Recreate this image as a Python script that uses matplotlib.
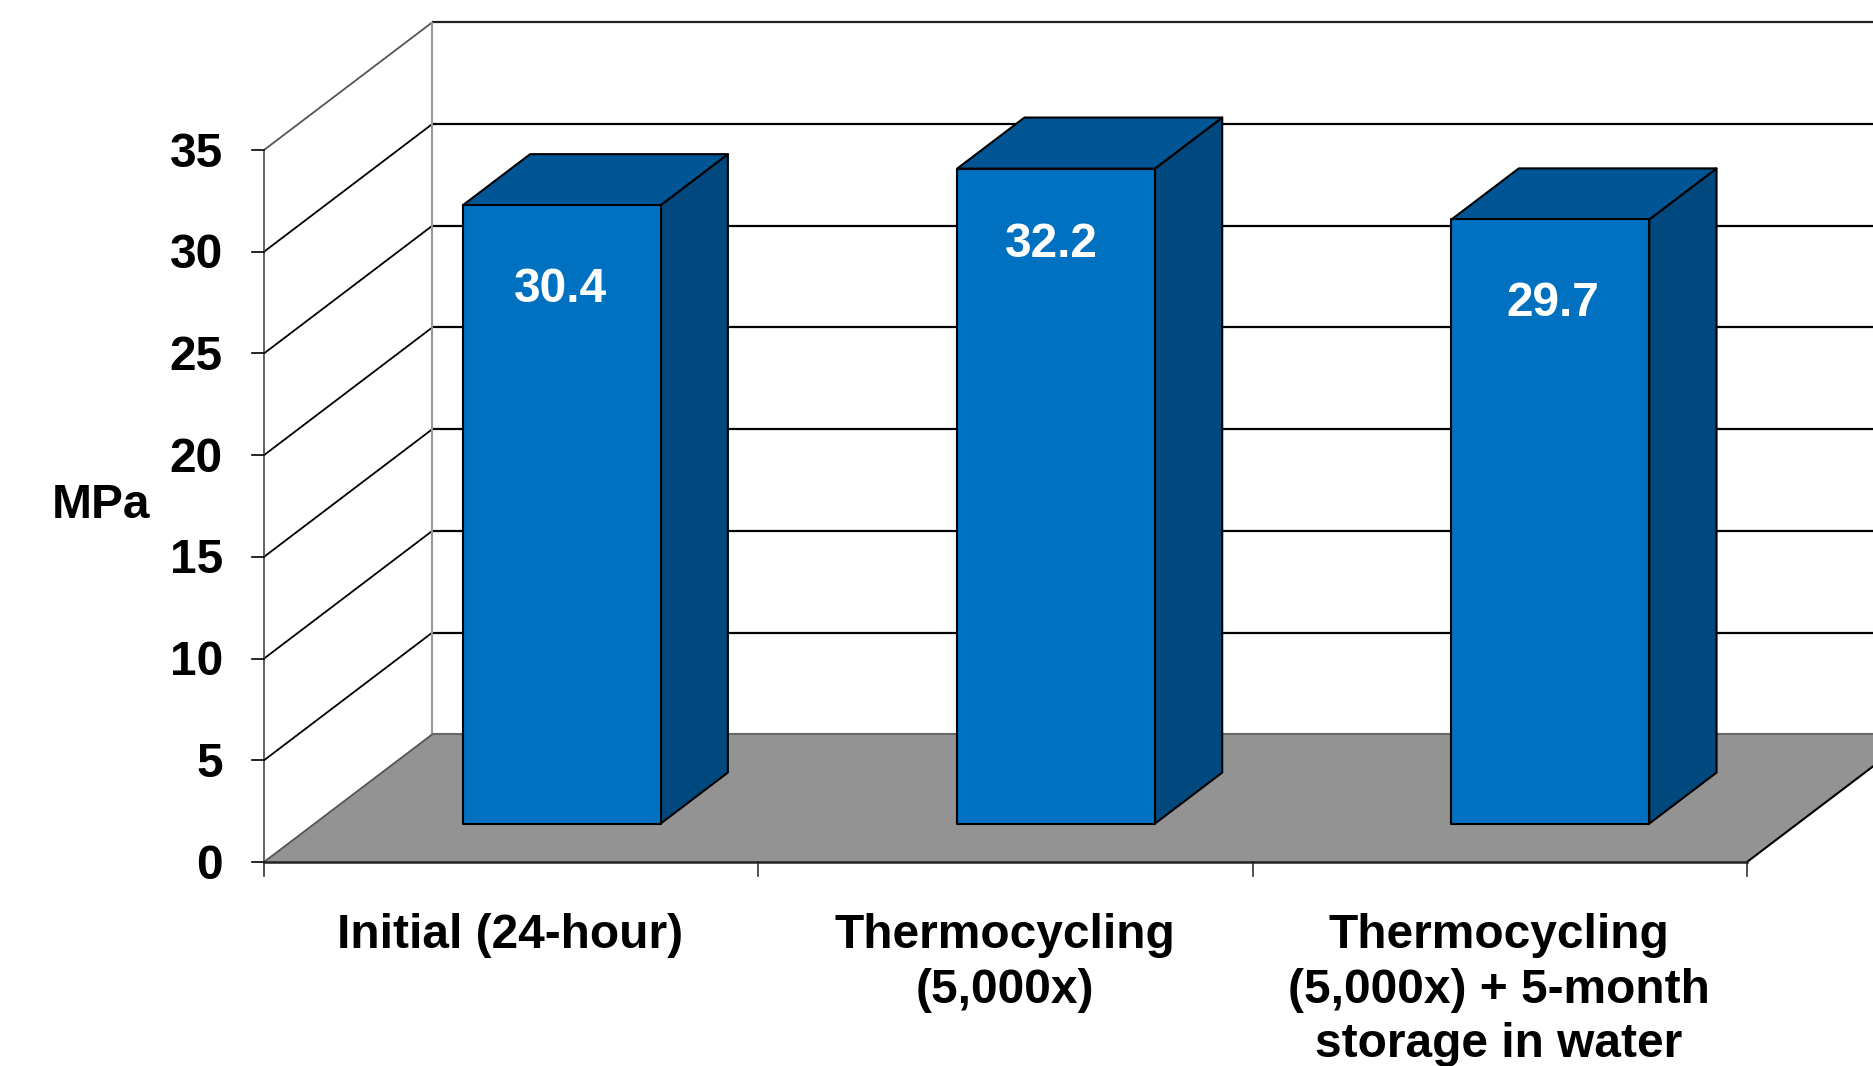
import matplotlib
matplotlib.use("Agg")
import matplotlib.pyplot as plt
from matplotlib.patches import Polygon

categories = ["Initial (24-hour)", "Thermocycling\n(5,000x)",
              "Thermocycling\n(5,000x) + 5-month\nstorage in water"]
values = [30.4, 32.2, 29.7]
yticks = [0, 5, 10, 15, 20, 25, 30, 35]
wall_top = 35

plt.rcParams["font.family"] = ["Liberation Sans", "DejaVu Sans"]
W, H = 1874, 1066
fig = plt.figure(figsize=(W / 100, H / 100), dpi=100)

# front plane of the fake 3D box, figure pixels
left, right, bottom, top = 264, 1747, 862, 150
ax = fig.add_axes([left / W, 1 - bottom / H, (right - left) / W, (bottom - top) / H])
ax.set_xlim(0, 3)
ax.set_ylim(0, 35)
ax.axis("off")

dx = 0.3406  # depth of the box, category units
dy = 6.28    # depth of the box, value units
bar_w = 0.4
gap = 0.30   # where the bar starts in the depth
bar_d = 0.40
# the value labels are not placed evenly in the original
label_dx = [-0.003, -0.010, 0.004]
label_dy = [-4.13, -3.72, -4.13]


def poly(pts, fc, ec="black", lw=1.5, z=2):
    ax.add_patch(Polygon(pts, closed=True, fc=fc, ec=ec, lw=lw, zorder=z,
                         clip_on=False, joinstyle="round"))


def line(xs, ys, lw=1.6, color="black", z=1):
    ax.plot(xs, ys, color=color, lw=lw, clip_on=False, zorder=z, solid_capstyle="butt")


# floor
poly([(0, 0), (3, 0), (3 + dx, dy), (dx, dy)], "#939393", ec="none", lw=0, z=1)
line([0, dx], [0, dy], lw=1.3, color="#555555", z=2)
line([dx, 3.4], [dy, dy], lw=1.5, color="#666666", z=2)
line([3, 3 + dx], [0, dy], lw=1.5, z=2)

# walls and gridlines
for v in yticks:
    if v > 0:
        line([0, dx], [v, v + dy], lw=1.3, color="#555555" if v == 35 else "black")
        line([dx, 3.4], [v + dy, v + dy], color="#222222" if v == 35 else "black")
line([0, 0], [0, wall_top], lw=1.3, color="#555555")
line([dx, dx], [dy, wall_top + dy], lw=1.5, color="#999999")

# ticks
for v in yticks:
    ax.plot([-0.025, 0], [v, v], color="black", lw=1.2, clip_on=False)
for i in range(len(categories) + 1):
    ax.plot([i, i], [0, -0.7], color="#333333", lw=1.2, clip_on=False)
ax.plot([0, 3], [0, 0], color="#222222", lw=1.8, clip_on=False, zorder=3)

# bars
for i, v in enumerate(values):
    x0 = i + 0.5 - bar_w / 2 + gap * dx
    x1 = x0 + bar_w
    y0 = gap * dy
    y1 = y0 + v
    ddx, ddy = bar_d * dx, bar_d * dy
    poly([(x1, y0), (x1 + ddx, y0 + ddy), (x1 + ddx, y1 + ddy), (x1, y1)], "#00487E", z=4)
    poly([(x0, y1), (x1, y1), (x1 + ddx, y1 + ddy), (x0 + ddx, y1 + ddy)], "#005595", z=4)
    poly([(x0, y0), (x1, y0), (x1, y1), (x0, y1)], "#0070C0", z=4)
    ax.text((x0 + x1) / 2 + label_dx[i], y1 + label_dy[i], f"{v:.1f}", color="white",
            fontsize=34.5, fontweight="bold", ha="center", va="center", zorder=5)

# axis text
for v in yticks:
    ax.text(-0.083, v - 0.2, str(v), fontsize=34.5, fontweight="bold", ha="right", va="center")
ax.text(-0.33, 17.5, "MPa", fontsize=34.5, fontweight="bold", ha="center", va="center")
for i, c in enumerate(categories):
    ax.text(i + 0.498, -2.5, c, fontsize=34.5, fontweight="bold", ha="center", va="top",
            linespacing=1.28, clip_on=False)

fig.savefig("out.png", dpi=100)
